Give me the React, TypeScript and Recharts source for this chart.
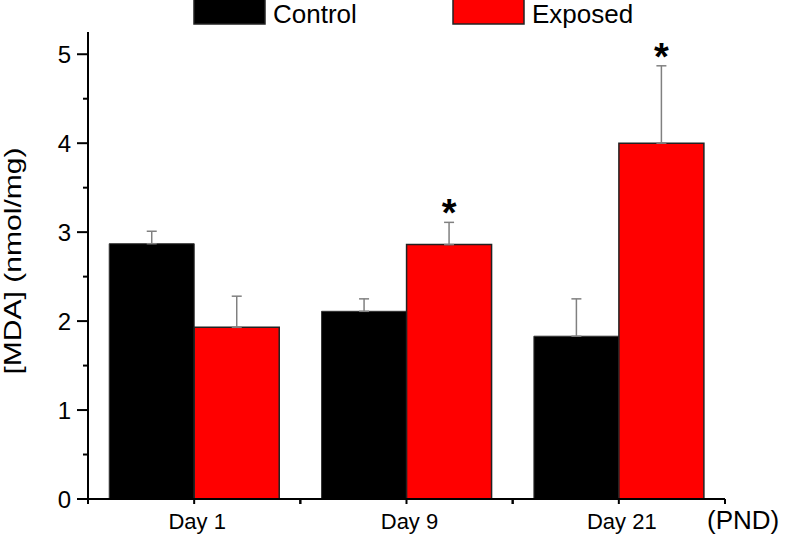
import { BarChart, Bar, XAxis, YAxis, ErrorBar, LabelList, Legend, Label } from "recharts";

const DAYS = ["Day 1", "Day 9", "Day 21"];
const CONTROL = [2.87, 2.11, 1.83];
const CONTROL_ERR = [0.14, 0.14, 0.42];
const EXPOSED = [1.93, 2.86, 4.0];
const EXPOSED_ERR = [0.35, 0.25, 0.87];
const SIGNIF = ["", "*", "*"];
const Y_TICKS = [0, 0.5, 1, 1.5, 2, 2.5, 3, 3.5, 4, 4.5, 5];

const data = DAYS.map((day, i) => ({
  day,
  control: CONTROL[i],
  controlErr: [0, CONTROL_ERR[i]],
  exposed: EXPOSED[i],
  exposedErr: [0, EXPOSED_ERR[i]],
}));

const W = 787;
const H = 536;
const MARGIN = { top: 32, right: 62, bottom: 0, left: 28 };
const Y_AXIS_W = 60;
const X_AXIS_H = 37;
const AXIS_X = MARGIN.left + Y_AXIS_W;
const AXIS_Y = H - MARGIN.bottom - X_AXIS_H;
const BAND = (W - AXIS_X - MARGIN.right) / DAYS.length;
const FONT = "'Liberation Sans', Arial, sans-serif";

// y ticks: long tick + label on whole numbers, short tick on halves
const YTick = (props: any) => {
  const { y, payload } = props;
  const major = Number.isInteger(payload.value);
  return (
    <g>
      <line x1={AXIS_X - (major ? 11 : 5)} x2={AXIS_X} y1={y} y2={y} stroke="#000" strokeWidth={2} />
      {major && (
        <text x={AXIS_X - 17} y={y + 8.5} textAnchor="end" fontSize={24} fontFamily={FONT} fill="#000">
          {payload.value}
        </text>
      )}
    </g>
  );
};

// x ticks: one at the category centre and one at each band edge
const XTick = (props: any) => {
  const { x, payload } = props;
  return (
    <g>
      {[x - BAND / 2, x, x + BAND / 2].map((tx, i) => (
        <line key={i} x1={tx} x2={tx} y1={AXIS_Y} y2={AXIS_Y + 5} stroke="#000" strokeWidth={2} />
      ))}
      <text x={x + 3} y={AXIS_Y + 30} textAnchor="middle" fontSize={22} fontFamily={FONT} fill="#000">
        {payload.value}
      </text>
    </g>
  );
};

const LEGEND_X = [194, 453];

const LegendContent = (props: any) => {
  const { payload } = props;
  return (
    <svg width={W} height={30}>
      {(payload || []).map((p: any, i: number) => (
        <g key={p.value}>
          <rect x={LEGEND_X[i]} y={-2} width={71} height={26} fill={p.color} stroke="#222" strokeWidth={1.5} />
          <text x={LEGEND_X[i] + 79} y={23} fontSize={26} fontFamily={FONT} fill="#000">
            {p.value}
          </text>
        </g>
      ))}
    </svg>
  );
};

const Star = (props: any) => {
  const { x, y, width, height, index } = props;
  if (!SIGNIF[index]) return null;
  const pxPerUnit = height / EXPOSED[index];
  const top = y - EXPOSED_ERR[index] * pxPerUnit;
  return (
    <text x={x + width / 2} y={top + 4} textAnchor="middle" fontSize={38} fontWeight="bold" fontFamily={FONT} fill="#000">
      {SIGNIF[index]}
    </text>
  );
};

const YLabel = () => (
  <text
    x={21}
    y={261}
    transform="rotate(-90, 21, 261)"
    textAnchor="middle"
    fontSize={24}
    fontFamily={FONT}
    textLength={227}
    lengthAdjust="spacingAndGlyphs"
    fill="#000"
  >
    [MDA] (nmol/mg)
  </text>
);

const PndLabel = () => (
  <text x={707} y={529} fontSize={26} fontFamily={FONT} fill="#000">
    (PND)
  </text>
);

export default function App() {
  return (
    <div style={{ position: "absolute", left: 0, top: 0, background: "#fff" }}>
      <BarChart width={W} height={H} data={data} margin={MARGIN} barCategoryGap="10%" barGap={0}>
        <XAxis
          dataKey="day"
          height={X_AXIS_H}
          axisLine={{ stroke: "#000", strokeWidth: 2 }}
          tickLine={false}
          tick={<XTick />}
          interval={0}
        >
          <Label content={<PndLabel />} />
        </XAxis>
        <YAxis
          width={Y_AXIS_W}
          domain={[0, 5.25]}
          ticks={Y_TICKS}
          axisLine={{ stroke: "#000", strokeWidth: 2 }}
          tickLine={false}
          tick={<YTick />}
          interval={0}
        >
          <Label content={<YLabel />} />
        </YAxis>
        <Legend
          verticalAlign="middle"
          align="center"
          content={<LegendContent />}
          wrapperStyle={{ position: "absolute", top: 0, left: 0, width: W, height: 30 }}
        />
        <Bar dataKey="control" name="Control" fill="#000000" stroke="#333" strokeWidth={1} isAnimationActive={false}>
          <ErrorBar dataKey="controlErr" direction="y" width={5} stroke="#808080" strokeWidth={1.5} />
        </Bar>
        <Bar dataKey="exposed" name="Exposed" fill="#ff0000" stroke="#222" strokeWidth={1.5} isAnimationActive={false}>
          <ErrorBar dataKey="exposedErr" direction="y" width={5} stroke="#808080" strokeWidth={1.5} />
          <LabelList dataKey="exposed" content={<Star />} />
        </Bar>
      </BarChart>
    </div>
  );
}
